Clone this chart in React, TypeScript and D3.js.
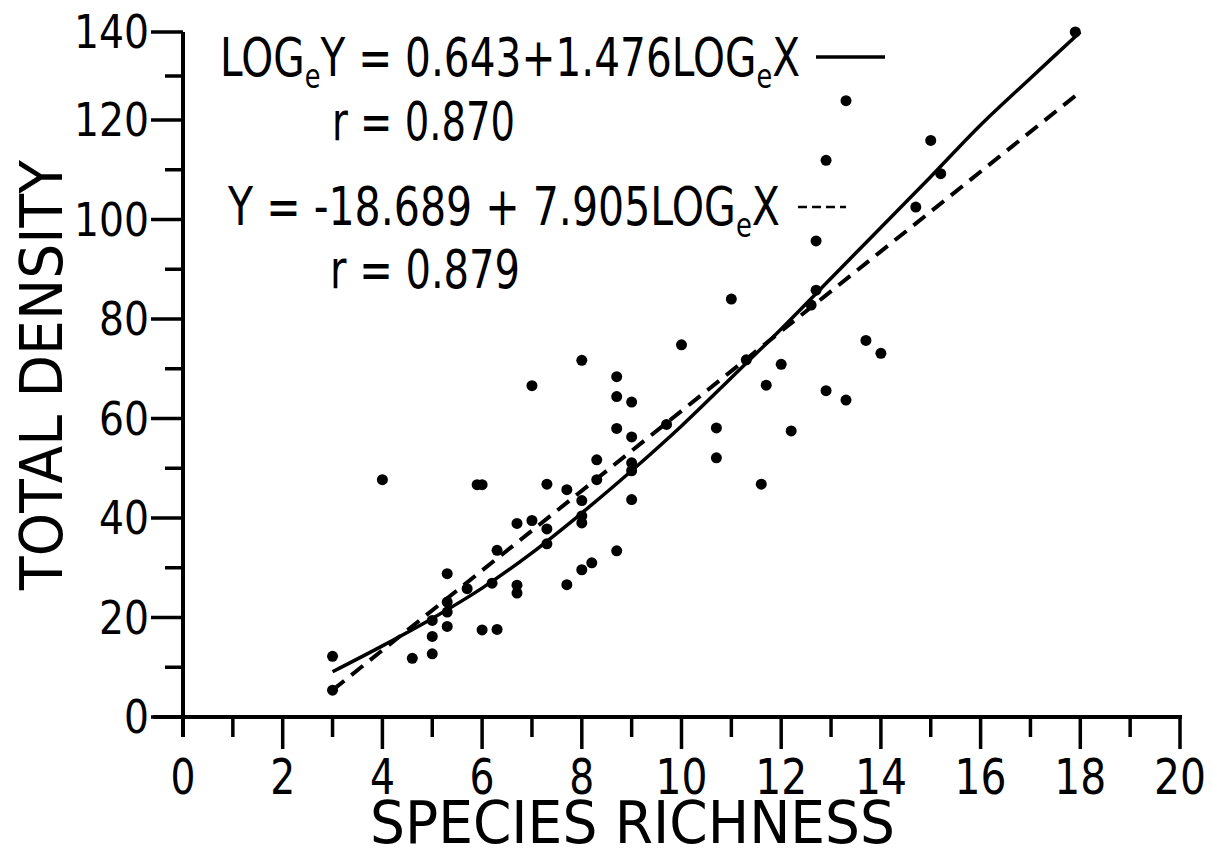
import React from "react";
import * as d3 from "d3";

// ---- data ----
const richness: number[] = [
  3.0, 3.0, 4.0, 4.6, 5.0, 5.0, 5.0, 5.3, 5.3, 5.3, 5.3, 5.7, 5.9, 6.0, 6.0, 6.3,
  6.2, 6.3, 6.7, 6.7, 6.7, 7.0, 7.0, 7.3, 7.3, 7.3, 7.7, 7.7, 8.0, 8.0, 8.0, 8.0,
  8.0, 8.2, 8.3, 8.3, 8.7, 8.7, 8.7, 8.7, 9.0, 9.0, 9.0, 9.0, 9.0, 9.7, 10.0, 10.7,
  10.7, 11.0, 11.3, 11.6, 11.7, 12.0, 12.2, 12.6, 12.7, 12.7, 12.9, 12.9, 13.3, 13.3,
  13.7, 14.0, 14.7, 15.0, 15.2, 17.9,
];
const density: number[] = [
  12.2, 5.4, 47.7, 11.8, 19.4, 16.2, 12.7, 18.2, 21.1, 23.1, 28.8, 25.8, 46.7, 46.7, 17.5, 17.6,
  26.9, 33.5, 26.5, 24.9, 38.9, 39.5, 66.6, 46.8, 37.8, 34.8, 45.7, 26.6, 71.7, 43.5, 40.4, 39.0,
  29.6, 31.0, 47.7, 51.7, 33.4, 68.4, 64.4, 58.0, 63.3, 56.3, 51.1, 49.5, 43.7, 58.8, 74.8, 58.1,
  52.1, 84.0, 71.8, 46.8, 66.7, 70.9, 57.5, 82.8, 85.8, 95.7, 65.6, 111.9, 124.4, 63.7,
  75.7, 73.1, 102.5, 115.9, 109.2, 140.0,
];

// fitted curve (solid, log-log fit) as drawn in the figure
const solidX: number[] = [3, 4, 5, 6, 7, 8, 9, 10, 11, 12, 13, 14, 15, 16, 17, 18];
const solidY: number[] = [9.1, 14.3, 19.8, 25.9, 33.0, 41.0, 49.5, 58.5, 68.2, 78.0, 88.2, 98.4, 108.6, 119.0, 129.5, 140.0];
// fitted line (dashed) as drawn in the figure
const dashX: number[] = [3, 18];
const dashY: number[] = [5.4, 126.4];

const xTicks: number[] = [0, 2, 4, 6, 8, 10, 12, 14, 16, 18, 20];
const yTicks: number[] = [0, 20, 40, 60, 80, 100, 120, 140];

const eq1Main = "Y = 0.643+1.476LOG";
const eq1Tail = "X";
const eq1R = "r = 0.870";
const eq2Main = "Y = -18.689 + 7.905LOG";
const eq2R = "r = 0.879";
const xTitle = "SPECIES RICHNESS";
const yTitle = "TOTAL DENSITY";

const FONT = "'DejaVu Sans', 'Liberation Sans', sans-serif";

export default function App() {
  const W = 1217;
  const H = 859;
  const x = d3.scaleLinear().domain([0, 20]).range([183, 1180]);
  // the printed axis is slightly uneven at its top segment
  const y = d3.scaleLinear().domain([0, 120, 140]).range([717, 120, 32]);

  const solidLine = d3
    .line<number>()
    .x((d) => x(d))
    .y((_, i) => y(solidY[i]))
    .curve(d3.curveCatmullRom)(solidX) as string;
  const dashLine = d3
    .line<number>()
    .x((d) => x(d))
    .y((_, i) => y(dashY[i]))(dashX) as string;

  const minorX = d3.range(1, 20, 1);
  const minorY = d3.range(10, 140, 20);

  const sub = (t: string) => (
    <tspan fontSize="34" dy="12">
      {t}
    </tspan>
  );

  return (
    <svg
      width={W}
      height={H}
      style={{ position: "absolute", left: 0, top: 0, background: "#fff" }}
      fontFamily={FONT}
    >
      <rect width={W} height={H} fill="#fff" />
      {/* axes */}
      <line x1={x(0)} x2={x(0)} y1={y(140)} y2={y(0) + 20} stroke="#000" strokeWidth={4} />
      <line x1={x(0) - 30} x2={x(20) + 2} y1={y(0)} y2={y(0)} stroke="#000" strokeWidth={4} />
      {/* y ticks */}
      {yTicks.map((t) => (
        <g key={"yt" + t}>
          <line x1={x(0) - 32} x2={x(0)} y1={y(t)} y2={y(t)} stroke="#000" strokeWidth={3.5} />
          <text
            x={x(0) - 34}
            y={y(t)}
            textAnchor="end"
            dominantBaseline="central"
            fontSize={46}
            textLength={String(t).length * 25}
            lengthAdjust="spacingAndGlyphs"
          >
            {t}
          </text>
        </g>
      ))}
      {minorY.map((t) => (
        <line key={"ym" + t} x1={x(0) - 18} x2={x(0)} y1={y(t)} y2={y(t)} stroke="#000" strokeWidth={3.5} />
      ))}
      {/* x ticks */}
      {minorX.map((t) => (
        <line
          key={"xm" + t}
          x1={x(t)}
          x2={x(t)}
          y1={y(0)}
          y2={y(0) + (t % 2 === 0 ? 32 : 20)}
          stroke="#000"
          strokeWidth={3.5}
        />
      ))}
      <line x1={x(20)} x2={x(20)} y1={y(0)} y2={y(0) + 32} stroke="#000" strokeWidth={3.5} />
      {xTicks.map((t) => (
        <text
          key={"xl" + t}
          x={x(t)}
          y={794}
          textAnchor="middle"
          fontSize={50}
          textLength={String(t).length === 1 ? 25 : 52}
          lengthAdjust="spacingAndGlyphs"
        >
          {t}
        </text>
      ))}
      {/* axis titles */}
      <text x={370} y={843} fontSize={58} textLength={525} lengthAdjust="spacingAndGlyphs">
        {xTitle}
      </text>
      <text
        transform="translate(62,375) rotate(-90)"
        textAnchor="middle"
        fontSize={58}
        textLength={430}
        lengthAdjust="spacingAndGlyphs"
      >
        {yTitle}
      </text>

      {/* fitted lines */}
      <path d={solidLine} fill="none" stroke="#000" strokeWidth={3.5} />
      <path d={dashLine} fill="none" stroke="#000" strokeWidth={4} strokeDasharray="15,9" />

      {/* points */}
      {richness.map((r, i) => (
        <circle key={"p" + i} cx={x(r)} cy={y(density[i])} r={5.5} fill="#000" />
      ))}

      {/* equations */}
      <text x={220} y={76} fontSize={54} textLength={580} lengthAdjust="spacingAndGlyphs">
        LOG{sub("e")}
        <tspan dy="-12">{eq1Main}</tspan>
        {sub("e")}
        <tspan dy="-12">{eq1Tail}</tspan>
      </text>
      <line x1={816} x2={885} y1={57} y2={57} stroke="#000" strokeWidth={3.5} />
      <text x={332} y={140} fontSize={54} textLength={183} lengthAdjust="spacingAndGlyphs">
        {eq1R}
      </text>
      <text x={228} y={225} fontSize={54} textLength={552} lengthAdjust="spacingAndGlyphs">
        {eq2Main}
        {sub("e")}
        <tspan dy="-12">{eq1Tail}</tspan>
      </text>
      <line x1={798} x2={846} y1={207} y2={207} stroke="#000" strokeWidth={2.5} strokeDasharray="9,5" />
      <text x={330} y={288} fontSize={54} textLength={190} lengthAdjust="spacingAndGlyphs">
        {eq2R}
      </text>
    </svg>
  );
}
